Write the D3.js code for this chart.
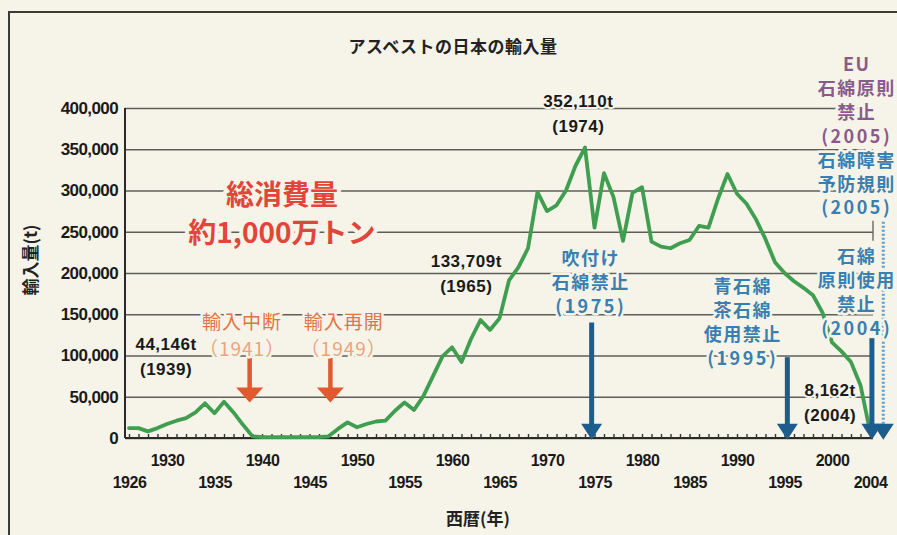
<!DOCTYPE html>
<html lang="ja">
<head>
<meta charset="utf-8">
<script src="https://cdn.jsdelivr.net/npm/d3@7/dist/d3.min.js"></script>
<style>
  html, body { margin: 0; padding: 0; background: #f6f4e8; }
  svg { display: block; }
  text { font-family: "Liberation Sans", Arial, "Noto Sans CJK JP", sans-serif; }
  .jp { font-family: "Noto Sans CJK JP", "Noto Sans", sans-serif; }
</style>
</head>
<body>
<svg id="chart" width="897" height="535"></svg>
<script>
// data (t per year)
const years = [
  1926, 1927, 1928, 1929, 1930, 1931, 1932, 1933, 1934, 1935,
  1936, 1937, 1938, 1939, 1940, 1941, 1942, 1943, 1944, 1945,
  1946, 1947, 1948, 1949, 1950, 1951, 1952, 1953, 1954, 1955,
  1956, 1957, 1958, 1959, 1960, 1961, 1962, 1963, 1964, 1965,
  1966, 1967, 1968, 1969, 1970, 1971, 1972, 1973, 1974, 1975,
  1976, 1977, 1978, 1979, 1980, 1981, 1982, 1983, 1984, 1985,
  1986, 1987, 1988, 1989, 1990, 1991, 1992, 1993, 1994, 1995,
  1996, 1997, 1998, 1999, 2000, 2001, 2002, 2003, 2004
];
const imports = [
  12000, 12000, 8000, 12000, 17000, 21000, 24000, 31000, 42000, 30000,
  44000, 31000, 16000, 2000, 1000, 1000, 1000, 1000, 1000, 1000,
  1000, 2000, 11000, 19000, 13000, 17000, 20000, 21000, 33000, 43000,
  34000, 51000, 75000, 99000, 110000, 92000, 120000, 143000, 131000, 145000,
  191000, 207000, 230000, 298000, 275000, 282000, 300000, 330000, 352110, 255000,
  321000, 292000, 239000, 297000, 304000, 238000, 232000, 230000, 236000, 240000,
  257000, 255000, 290000, 320000, 296000, 284000, 265000, 241000, 213000, 200000,
  190000, 182000, 173000, 152000, 116000, 105000, 92000, 64000, 8162
];

const yTicks = [0, 50000, 100000, 150000, 200000, 250000, 300000, 350000, 400000];
const xTicksTop = [1930, 1940, 1950, 1960, 1970, 1980, 1990, 2000];
const xTicksBottom = [1926, 1935, 1945, 1955, 1965, 1975, 1985, 1995, 2004];

const title = 'アスベストの日本の輸入量';
const yTitle = '輸入量(t)';
const xTitle = '西暦(年)';

const noteTotal = ['総消費量', '約1,000万トン'];
const noteStop = ['輸入中断', '（1941）'];
const noteRestart = ['輸入再開', '（1949）'];
const noteSpray = ['吹付け', '石綿禁止', '(1975)'];
const noteBlueBrown = ['青石綿', '茶石綿', '使用禁止', '(1995)'];
const noteEU = ['EU', '石綿原則', '禁止', '(2005)'];
const noteRule = ['石綿障害', '予防規則', '(2005)'];
const noteBan = ['石綿', '原則使用', '禁止', '(2004)'];
const peaks = [
  ['44,146t', '(1939)'],
  ['133,709t', '(1965)'],
  ['352,110t', '(1974)'],
  ['8,162t', '(2004)']
];

const bg = '#f6f4e8';
const svg = d3.select('#chart');

const plot = { left: 125, right: 873, top: 108, bottom: 438 };

const x = d3.scaleLinear().domain([1926, 2004]).range([129, 870]);
const y = d3.scaleLinear().domain([0, 400000]).range([plot.bottom, plot.top]);

// outer frame
svg.append('rect')
  .attr('x', 9).attr('y', 12)
  .attr('width', 900).attr('height', 540)
  .attr('fill', 'none')
  .attr('stroke', '#3a3a36')
  .attr('stroke-width', 2)
  ;

svg.append('text')
  .attr('class', 'jp')
  .attr('x', 453).attr('y', 45)
  .attr('text-anchor', 'middle')
  .attr('dominant-baseline', 'central')
  .style('font-size', '17px')
  .style('font-weight', 'bold')
  .style('letter-spacing', '0.5px')
  .attr('fill', '#222')
  .text(title);

// y axis + gridlines
const yAxis = d3.axisLeft(y)
  .tickValues(yTicks)
  .tickFormat(d3.format(','))
  .tickSize(-(plot.right - plot.left))
  .tickPadding(7)
  ;

const yAxisG = svg.append('g')
  .attr('transform', `translate(${plot.left}, 0)`)
  .call(yAxis);
yAxisG.select('.domain').remove();
yAxisG.selectAll('.tick line')
  .attr('stroke', '#5e5e58')
  .attr('stroke-width', 1.3);
yAxisG.selectAll('.tick text')
  .attr('fill', '#1a1a1a')
  .style('font-size', '17px')
  .style('font-weight', 'bold')
  .style('letter-spacing', '-0.6px');

svg.append('line')
  .attr('x1', plot.left).attr('x2', plot.left)
  .attr('y1', plot.top).attr('y2', plot.bottom)
  .attr('stroke', '#2a2a28')
  .attr('stroke-width', 2);

svg.append('text')
  .attr('class', 'jp')
  .attr('transform', 'translate(29, 260) rotate(-90)')
  .attr('text-anchor', 'middle')
  .attr('dominant-baseline', 'central')
  .style('font-size', '17px')
  .style('font-weight', 'bold')
  .attr('fill', '#222')
  .text(yTitle);

// x axis: year ticks + two rows of labels
const xMinor = d3.axisBottom(x).tickValues(years).tickSize(-4).tickFormat('');
const xMinorG = svg.append('g')
  .attr('transform', `translate(0, ${plot.bottom})`)
  .call(xMinor);
xMinorG.select('.domain')
  .attr('d', `M${plot.left},0H${plot.right}`)
  .attr('stroke', '#2a2a28')
  .attr('stroke-width', 2.2);
xMinorG.selectAll('.tick line').attr('stroke', '#333').attr('stroke-width', 1.4);

[[xTicksTop, 22], [xTicksBottom, 44]].forEach(([vals, off]) => {
  const g = svg.append('g')
    .attr('transform', `translate(0, ${plot.bottom})`)
    .call(d3.axisBottom(x).tickValues(vals).tickSize(0).tickFormat(d3.format('d')));
  g.select('.domain').remove();
  g.selectAll('.tick text')
    .attr('y', off)
    .attr('dy', '0.35em')
    .attr('fill', '#1a1a1a')
    .style('font-size', '16px')
    .style('font-weight', 'bold')
    .style('letter-spacing', '-0.5px');
});

svg.append('text')
  .attr('class', 'jp')
  .attr('x', 478).attr('y', 517)
  .attr('text-anchor', 'middle')
  .attr('dominant-baseline', 'central')
  .style('font-size', '17px')
  .style('font-weight', 'bold')
  .attr('fill', '#222')
  .text(xTitle);

// the import line
const line = d3.line()
  .x((d, i) => x(years[i]))
  .y(d => y(d));

svg.append('path')
  .datum(imports)
  .attr('d', line)
  .attr('fill', 'none')
  .attr('stroke', '#3f9e50')
  .attr('stroke-width', 3.8)
  .attr('stroke-linejoin', 'round')
  .attr('stroke-linecap', 'round');

// arrows
function arrow(xPos, yTop, yTip, color, opts = {}) {
  const headH = opts.headH || 15;
  const headW = opts.headW || 22;
  const g = svg.append('g');
  g.append('line')
    .attr('x1', xPos).attr('x2', xPos)
    .attr('y1', yTop).attr('y2', yTip - headH + 1)
    .attr('stroke', opts.shaft || color)
    .attr('stroke-width', opts.width || 5)
    .attr('stroke-dasharray', opts.dash || null);
  g.append('path')
    .attr('d', `M${xPos - headW / 2},${yTip - headH}L${xPos + headW / 2},${yTip - headH}L${xPos},${yTip}Z`)
    .attr('fill', color);
}

const orange = '#e0592f';
const navy = '#1d5d8d';
arrow(x(1938.7), y(97000), y(43000), orange, { headW: 27, headH: 15, width: 4.5 });
arrow(x(1947.2), y(97000), y(43000), orange, { headW: 27, headH: 15, width: 4.5 });
arrow(x(1974.7), y(140000), y(-2000), navy, { headW: 21, headH: 16, width: 5 });
arrow(x(1995.3), y(98000), y(-2000), navy, { headW: 21, headH: 16, width: 5 });
arrow(x(2005.4), y(262000), y(-2000), navy, { headW: 21, headH: 16, width: 3, shaft: '#5d9fd2', dash: '2,2' });
arrow(x(2004.2), y(121000), y(-2000), navy, { headW: 21, headH: 16, width: 5 });

// small bracket at the end of the 250,000 gridline
svg.append('line')
  .attr('x1', plot.right).attr('x2', plot.right)
  .attr('y1', y(250000) - 11).attr('y2', y(250000) + 9)
  .attr('stroke', '#5e5e58')
  .attr('stroke-width', 1.3);

// text notes
function note(lines, cx, cy, step, style) {
  const g = svg.append('g');
  lines.forEach((t, i) => {
    const isYear = /^\(/.test(t);
    g.append('text')
      .attr('class', style.jp ? 'jp' : null)
      .attr('x', cx)
      .attr('y', cy + i * step)
      .attr('text-anchor', 'middle')
      .attr('dominant-baseline', 'central')
      .style('font-size', `${style.size}px`)
      .style('font-weight', style.weight || 'normal')
      .style('letter-spacing', (isYear && style.yearSpacing) || style.spacing || '0px')
      .attr('fill', (style.colors && style.colors[i]) || style.color)
      .attr('stroke', bg)
      .attr('stroke-width', style.halo || 5)
      .attr('stroke-linejoin', 'round')
      .attr('paint-order', 'stroke')
      .text(t);
  });
}

const blue = '#3a7fb0';
const blueStyle = { jp: true, size: 18, weight: 'bold', spacing: '1.5px', yearSpacing: '2.5px', color: blue };

note(noteTotal, x(1942.1), y(297000), 38, { jp: true, size: 28, weight: 'bold', color: '#e0463a', halo: 8 });
note(noteStop, x(1937.9), y(142000), 27, { jp: true, size: 19, color: '#e07446', colors: ['#e07446', '#eba47e'], spacing: '1px' });
note(noteRestart, x(1948.6), y(142000), 27, { jp: true, size: 19, color: '#e07446', colors: ['#e07446', '#eba47e'], spacing: '1px' });
note(noteSpray, x(1974.6), y(219000), 24, blueStyle);
note(noteBlueBrown, x(1990.6), y(185000), 24, blueStyle);
note(noteEU, x(2002.6), y(455000), 24, Object.assign({}, blueStyle, { color: '#8b5a8c' }));
note(noteRule, x(2002.6), y(338000), 23.5, blueStyle);
note(noteBan, x(2002.6), y(222000), 24, blueStyle);

const peakPos = [
  [x(1929.9), y(113000)],
  [x(1961.5), y(214000)],
  [x(1973.3), y(408000)],
  [x(1999.8), y(58000)]
];
peaks.forEach((p, i) => {
  note(p, peakPos[i][0], peakPos[i][1], 25, { size: 17, weight: 'bold', color: '#1a1a1a', spacing: '0.5px', halo: 4 });
});
</script>
</body>
</html>
